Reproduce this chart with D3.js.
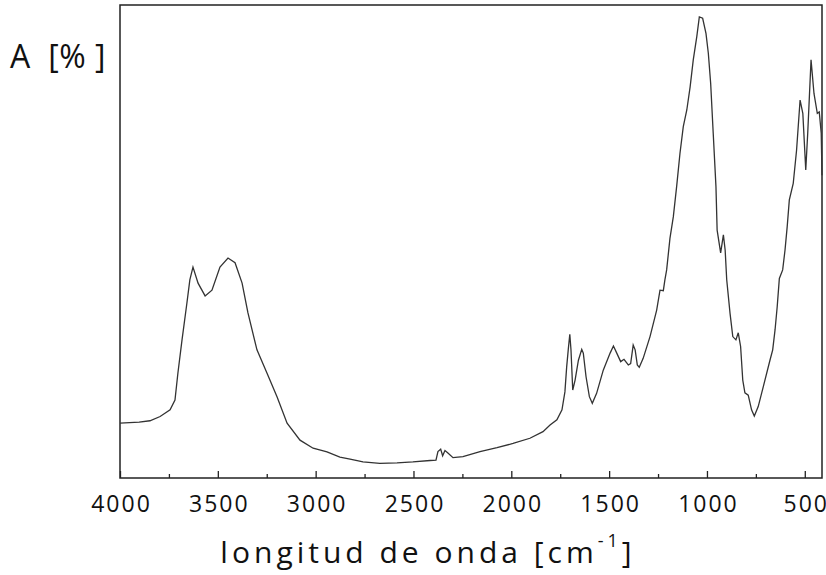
<!DOCTYPE html>
<html>
<head>
<meta charset="utf-8">
<script src="https://cdn.jsdelivr.net/npm/d3@7"></script>
<style>
  body { margin: 0; background: #fff; }
  svg { display: block; }
</style>
</head>
<body>
<div id="chart-area"></div>
<script>
// FTIR spectrum
var wavenumbers = [4000, 3902, 3847, 3795, 3744, 3719, 3704, 3683, 3658, 3643, 3627, 3601, 3565, 3530, 3489, 3448,
    3412, 3376, 3346, 3300, 3249, 3197, 3146, 3080, 3013, 2942, 2876, 2824, 2758, 2672, 2584, 2503,
    2415, 2385, 2375, 2361, 2351, 2339, 2324, 2298, 2247, 2160, 2073, 1991, 1905, 1838, 1802, 1767,
    1741, 1726, 1717, 1709, 1701, 1695, 1686, 1674, 1657, 1640, 1632, 1618, 1601, 1586, 1564, 1530,
    1495, 1478, 1461, 1441, 1424, 1402, 1390, 1377, 1367, 1356, 1346, 1326, 1291, 1257, 1240, 1223,
    1215, 1206, 1189, 1172, 1155, 1138, 1121, 1103, 1086, 1070, 1052, 1039, 1022, 1005, 993, 981,
    968, 954, 948, 930, 916, 907, 899, 882, 868, 852, 840, 828, 817, 806, 789, 772, 758, 738, 712,
    678, 664, 652, 641, 630, 613, 601, 590, 579, 559, 542, 524, 510, 495, 485, 468, 453, 436, 426,
    416, 412];
var absorbance = [11.6, 11.8, 12.1, 13.0, 14.4, 16.5, 22.2, 29.2, 37.0, 41.9, 44.6, 41.2, 38.5, 39.7, 44.6, 46.5,
    45.5, 41.2, 34.9, 27.1, 22.2, 17.1, 11.6, 8.0, 6.3, 5.5, 4.4, 4.0, 3.4, 3.1, 3.2, 3.4,
    3.7, 3.8, 5.6, 6.1, 4.7, 5.8, 5.3, 4.3, 4.5, 5.6, 6.4, 7.3, 8.4, 9.8, 11.2, 12.3,
    14.4, 18.2, 23.5, 27.1, 30.4, 27.1, 18.6, 20.7, 24.9, 27.2, 26.4, 21.4, 17.2, 15.8, 17.9, 22.8,
    26.4, 27.9, 26.4, 24.6, 25.1, 23.9, 24.2, 28.1, 27.1, 23.9, 23.4, 25.3, 29.9, 35.5, 39.7, 39.6,
    41.9, 44.0, 50.7, 55.2, 61.6, 68.6, 74.3, 77.8, 82.7, 88.4, 93.3, 97.5, 97.2, 94.0, 89.8, 83.4,
    72.9, 61.6, 52.4, 47.6, 51.4, 48.2, 41.9, 34.8, 29.9, 29.2, 30.7, 27.8, 20.7, 18.0, 17.5, 14.4, 13.1, 15.1, 19.3,
    24.9, 27.1, 31.3, 36.2, 42.2, 44.0, 48.2, 53.1, 58.8, 62.3, 69.3, 79.9, 77.1, 65.1, 72.9, 88.4, 81.3, 77.1, 77.4,
    72.9, 64.0];
var majorTicks = [4000, 3500, 3000, 2500, 2000, 1500, 1000, 500];
var minorTicks = [3750, 3250, 2750, 2250, 1750, 1250, 750];

var data = wavenumbers.map((w, i) => ({ wn: w, a: absorbance[i] }));

var margins = { top: 5, left: 120, right: 4, bottom: 97 };
var width = 826 - margins.left - margins.right;
var height = 575 - margins.top - margins.bottom;

var svg = d3.select("#chart-area")
    .append("svg")
    .attr("width", 826)
    .attr("height", 575);

var g = svg.append("g")
    .attr("transform", `translate(${margins.left}, ${margins.top})`);

var x = d3.scaleLinear()
    .domain([4000, 412])
    .range([0, width]);

var y = d3.scaleLinear()
    .domain([0, 100])
    .range([height, 0]);

// minor ticks, no labels
g.append("g")
    .attr("class", "minor-axis")
    .attr("transform", `translate(0, ${height})`)
    .call(d3.axisBottom(x).tickValues(minorTicks).tickSize(-4).tickFormat(""))
    .call(a => a.select(".domain").remove())
    .call(a => a.selectAll("line").attr("stroke", "#222").attr("stroke-width", 1.3));

var xAxis = g.append("g")
    .attr("class", "x-axis")
    .attr("transform", `translate(0, ${height})`)
    .call(d3.axisBottom(x).tickValues(majorTicks).tickFormat(d3.format("d"))
        .tickSizeInner(-7).tickSizeOuter(0).tickPadding(18));

xAxis.select(".domain").remove();
xAxis.selectAll("line").attr("stroke", "#222").attr("stroke-width", 1.3);
xAxis.selectAll("text")
    .attr("font-family", "'Open Sans', sans-serif")
    .attr("font-size", "23px")
    .attr("fill", "#111")
    .attr("letter-spacing", "2px")
    .attr("dx", "1px");

// frame
g.append("rect")
    .attr("x", 0)
    .attr("y", 0)
    .attr("width", width)
    .attr("height", height)
    .attr("fill", "none")
    .attr("stroke", "#222")
    .attr("stroke-width", 1.5);

var line = d3.line()
    .x(d => x(d.wn))
    .y(d => y(d.a));

g.append("path")
    .datum(data)
    .attr("fill", "none")
    .attr("stroke", "#333")
    .attr("stroke-width", 1.3)
    .attr("d", line);

svg.append("text")
    .attr("x", 10)
    .attr("y", 68)
    .attr("font-family", "'Open Sans', sans-serif")
    .attr("font-size", "32px")
    .attr("letter-spacing", "0.5px")
    .attr("fill", "#111")
    .style("white-space", "pre")
    .text("A  [% ]");

var xl = svg.append("text")
    .attr("x", 428)
    .attr("y", 563)
    .attr("text-anchor", "middle")
    .attr("font-family", "'Open Sans', sans-serif")
    .attr("font-size", "30px")
    .attr("letter-spacing", "4px")
    .attr("fill", "#111");
xl.append("tspan").text("longitud de onda [cm");
xl.append("tspan").attr("dy", -16).attr("font-size", "18px").text("-1");
xl.append("tspan").attr("dy", 16).text("]");
</script>
</body>
</html>
